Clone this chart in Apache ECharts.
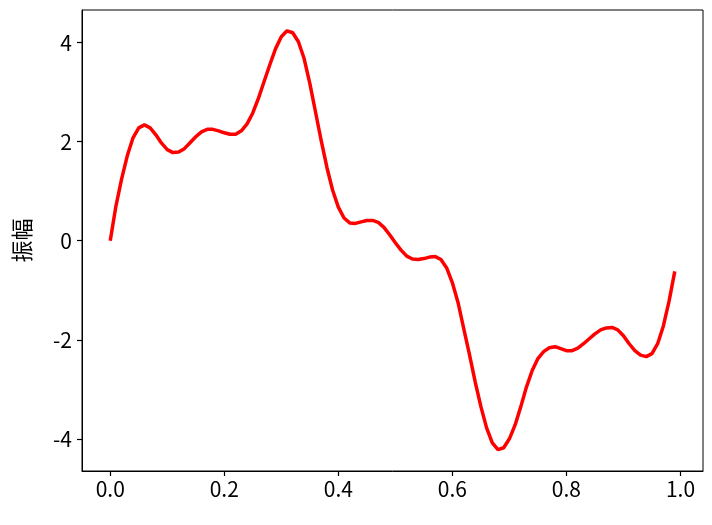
<!DOCTYPE html>
<html lang="zh">
  <head>
    <meta charset="UTF-8" />
    <title>振幅</title>
    <style>
      html, body { margin: 0; padding: 0; background: #fff; }
      #main { width: 712px; height: 525px; }
    </style>
  </head>
  <body>
    <div id="main"></div>
    <script src="https://cdn.jsdelivr.net/npm/echarts@6/dist/echarts.min.js"></script>
    <script>
      // x samples 0.00 .. 0.99
      const xs = [
        0.00, 0.01, 0.02, 0.03, 0.04, 0.05, 0.06, 0.07, 0.08, 0.09,
        0.10, 0.11, 0.12, 0.13, 0.14, 0.15, 0.16, 0.17, 0.18, 0.19,
        0.20, 0.21, 0.22, 0.23, 0.24, 0.25, 0.26, 0.27, 0.28, 0.29,
        0.30, 0.31, 0.32, 0.33, 0.34, 0.35, 0.36, 0.37, 0.38, 0.39,
        0.40, 0.41, 0.42, 0.43, 0.44, 0.45, 0.46, 0.47, 0.48, 0.49,
        0.50, 0.51, 0.52, 0.53, 0.54, 0.55, 0.56, 0.57, 0.58, 0.59,
        0.60, 0.61, 0.62, 0.63, 0.64, 0.65, 0.66, 0.67, 0.68, 0.69,
        0.70, 0.71, 0.72, 0.73, 0.74, 0.75, 0.76, 0.77, 0.78, 0.79,
        0.80, 0.81, 0.82, 0.83, 0.84, 0.85, 0.86, 0.87, 0.88, 0.89,
        0.90, 0.91, 0.92, 0.93, 0.94, 0.95, 0.96, 0.97, 0.98, 0.99
      ];
      // amplitude
      const amplitude = [
        0, 0.70, 1.25, 1.72, 2.08, 2.28, 2.34, 2.28, 2.14, 1.97,
        1.84, 1.78, 1.79, 1.86, 1.98, 2.10, 2.20, 2.25, 2.25, 2.22,
        2.18, 2.15, 2.15, 2.22, 2.36, 2.58, 2.88, 3.22, 3.56, 3.88,
        4.12, 4.24, 4.20, 4.02, 3.68, 3.18, 2.60, 2.02, 1.48, 1.02,
        0.68, 0.46, 0.36, 0.35, 0.38, 0.41, 0.41, 0.37, 0.27, 0.12,
        -0.04, -0.19, -0.31, -0.37, -0.38, -0.36, -0.33, -0.32, -0.38, -0.55,
        -0.85, -1.25, -1.78, -2.30, -2.85, -3.35, -3.78, -4.08, -4.22, -4.18,
        -4.00, -3.72, -3.35, -2.95, -2.62, -2.38, -2.24, -2.16, -2.14, -2.18,
        -2.22, -2.22, -2.17, -2.08, -1.98, -1.88, -1.80, -1.76, -1.75, -1.80,
        -1.92, -2.08, -2.22, -2.31, -2.34, -2.28, -2.08, -1.72, -1.22, -0.62
      ];
      const xTicks = [0, 0.2, 0.4, 0.6, 0.8, 1.0];
      const yTicks = [-4, -2, 0, 2, 4];
      const yName = "振幅";

      const font = "'Noto Sans CJK SC', 'Noto Sans', sans-serif";
      const chart = echarts.init(document.getElementById("main"));

      chart.setOption({
        animation: false,
        grid: {
          left: 82, right: 9, top: 10, bottom: 54,
          show: true, borderColor: "#000", borderWidth: 1,
          backgroundColor: "transparent"
        },
        xAxis: {
          type: "value",
          min: -0.0495,
          max: 1.0395,
          axisLine: { show: true, onZero: false, lineStyle: { color: "#000", width: 1 } },
          splitLine: { show: false },
          axisTick: {
            show: true, inside: false, length: 5,
            customValues: xTicks,
            lineStyle: { color: "#000", width: 1.2 }
          },
          axisLabel: {
            customValues: xTicks,
            color: "#000", fontSize: 21, fontFamily: font, margin: 8,
            formatter: v => v.toFixed(1)
          }
        },
        yAxis: {
          type: "value",
          min: -4.65,
          max: 4.66,
          name: yName,
          nameLocation: "middle",
          nameGap: 49,
          nameTextStyle: { color: "#000", fontSize: 22, fontFamily: font },
          axisLine: { show: true, onZero: false, lineStyle: { color: "#000", width: 1 } },
          splitLine: { show: false },
          axisTick: {
            show: true, length: 5,
            customValues: yTicks,
            lineStyle: { color: "#000", width: 1.2 }
          },
          axisLabel: {
            customValues: yTicks,
            color: "#000", fontSize: 21, fontFamily: font, margin: 10,
            formatter: v => String(v)
          }
        },
        series: [{
          type: "line",
          data: xs.map((x, i) => [x, amplitude[i]]),
          showSymbol: false,
          smooth: false,
          lineStyle: { color: "#ff0000", width: 3.5 },
          itemStyle: { color: "#ff0000" }
        }]
      });
    </script>
  </body>
</html>
